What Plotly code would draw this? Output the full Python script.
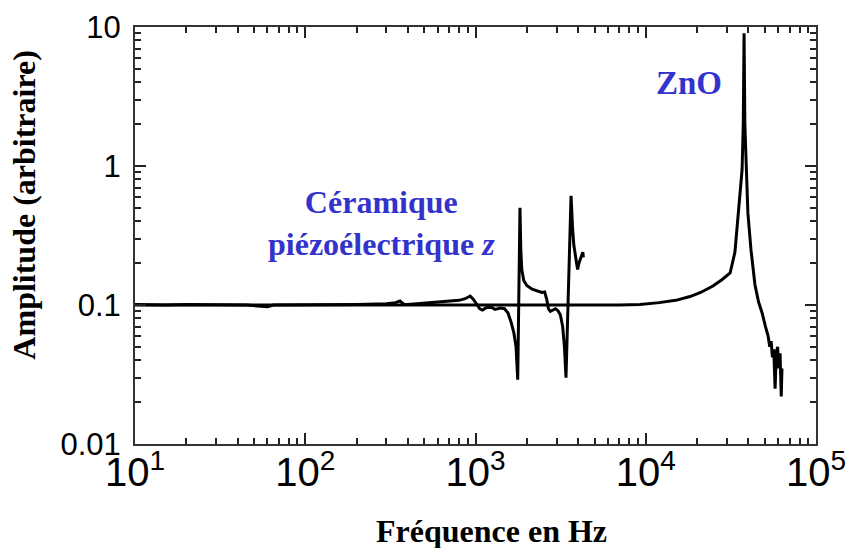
import plotly.graph_objects as go

# Ceramic (piezoelectric) trace
cer_freq = [10, 15, 20, 30, 45, 55, 60, 65, 80, 100, 150, 200, 300, 340, 360, 380, 400, 500, 600, 700,
            800, 870, 930, 970, 1020, 1060, 1100, 1160, 1250, 1300, 1400, 1480, 1550, 1620, 1680, 1730,
            1770, 1800, 1825, 1845, 1870, 1920, 2000, 2150, 2300, 2450, 2550, 2620, 2680, 2750, 2850,
            2950, 3050, 3150, 3250, 3330, 3400, 3450, 3560, 3640, 3720, 3780, 3900, 3980, 4050, 4150,
            4270, 4300]
cer_amp = [0.101, 0.100, 0.101, 0.100, 0.100, 0.098, 0.097, 0.100, 0.100, 0.100, 0.101, 0.101, 0.102,
           0.104, 0.107, 0.101, 0.101, 0.103, 0.105, 0.107, 0.108, 0.111, 0.116, 0.110, 0.100, 0.094,
           0.092, 0.096, 0.096, 0.093, 0.095, 0.094, 0.088, 0.075, 0.063, 0.050, 0.029, 0.10, 0.50,
           0.25, 0.18, 0.150, 0.138, 0.130, 0.126, 0.123, 0.124, 0.110, 0.094, 0.090, 0.092, 0.094,
           0.091, 0.085, 0.070, 0.050, 0.030, 0.06, 0.30, 0.61, 0.35, 0.27, 0.21, 0.18, 0.20, 0.22,
           0.24, 0.22]

# ZnO trace
zno_freq = [10, 20, 50, 100, 200, 500, 1000, 2000, 3000, 5000, 7000, 9250, 12000, 15000, 18200, 21000,
            24800, 28000, 31300, 33400, 34800, 36000, 36800, 37400, 37800, 38200, 38600, 39800, 41500,
            43800, 46000, 48200, 50500, 52300, 53500, 54500, 55500, 56500, 57500, 58500, 59500, 60500,
            61500, 62500, 63100]
zno_amp = [0.100, 0.100, 0.099, 0.100, 0.100, 0.100, 0.100, 0.100, 0.100, 0.100, 0.100, 0.101, 0.104,
           0.108, 0.115, 0.123, 0.137, 0.152, 0.170, 0.240, 0.410, 0.700, 0.940, 2.0, 9.0, 2.0, 1.25,
           0.46, 0.25, 0.14, 0.105, 0.088, 0.070, 0.060, 0.050, 0.055, 0.042, 0.048, 0.025, 0.045,
           0.050, 0.035, 0.045, 0.022, 0.035]

# decade labels: "10" (10^1) is written with its exponent like the others
x_label_alias = {"10": "10<sup>1</sup>"}

fig = go.Figure()
fig.add_trace(go.Scatter(x=zno_freq, y=zno_amp, mode="lines",
                         line=dict(color="black", width=3), showlegend=False))
fig.add_trace(go.Scatter(x=cer_freq, y=cer_amp, mode="lines",
                         line=dict(color="black", width=3), showlegend=False))

tick_font = dict(family="Liberation Sans, Arial", color="black")
serif = "Liberation Serif, Times New Roman"
common = dict(showgrid=False, zeroline=False, ticks="inside", ticklen=11,
              tickwidth=2, tickcolor="#222", showline=True, linecolor="#333", linewidth=2,
              mirror="ticks", dtick=1, ticklabeloverflow="allow",
              minor=dict(ticks="inside", ticklen=6, tickwidth=1.5, tickcolor="#222", showgrid=False))
fig.update_layout(
    template="none",
    width=846, height=548,
    margin=dict(l=135, r=30, t=27, b=104),
    paper_bgcolor="white", plot_bgcolor="white",
    xaxis=dict(type="log", range=[1, 5], exponentformat="power", labelalias=x_label_alias,
               ticklabelstandoff=-6, tickfont=dict(size=32, **tick_font), **common),
    yaxis=dict(type="log", range=[-2, 1], exponentformat="none",
               ticklabelstandoff=6, tickfont=dict(size=31, **tick_font), **common),
    annotations=[
        dict(text="Amplitude (arbitraire)", xref="paper", yref="paper", x=-0.163, y=0.574,
             xanchor="center", yanchor="middle", textangle=-90, showarrow=False,
             font=dict(family=serif, size=32, color="black", weight="bold")),
        dict(text="Fréquence en Hz", xref="paper", yref="paper", x=0.523, y=-0.208,
             xanchor="center", yanchor="middle", showarrow=False,
             font=dict(family=serif, size=32, color="black", weight="bold")),
        dict(text="ZnO", xref="paper", yref="paper", x=0.8135, y=0.866,
             xanchor="center", yanchor="middle", showarrow=False,
             font=dict(family=serif, size=33, color="#3333cc", weight="bold")),
        dict(text="Céramique<br>piézoélectrique <i>z</i>", xref="paper", yref="paper",
             x=0.3627, y=0.531, xanchor="center", yanchor="middle", showarrow=False, align="center",
             font=dict(family=serif, size=32, color="#3333cc", weight="bold")),
    ],
)

fig.write_html("out.html", config={"displayModeBar": False},
               post_script="document.body.style.margin='0';document.body.style.overflow='hidden';")
